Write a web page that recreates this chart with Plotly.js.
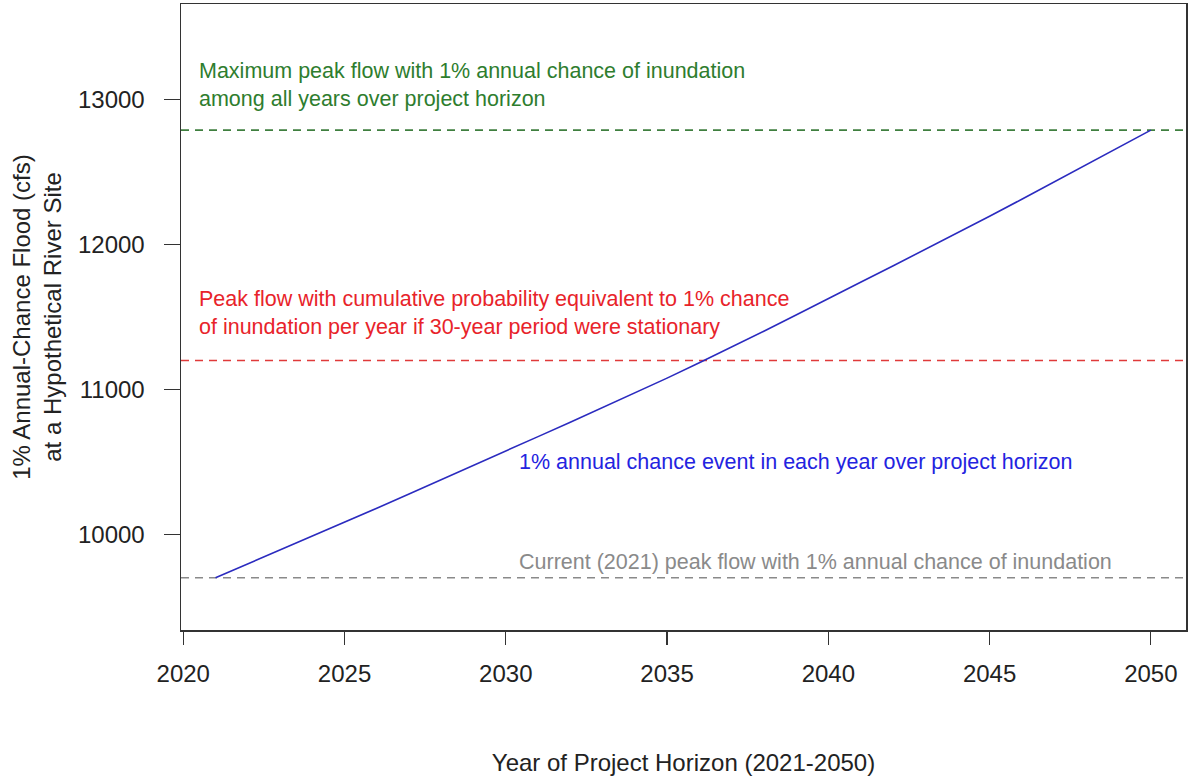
<!DOCTYPE html>
<html>
<head>
<meta charset="utf-8">
<script src="https://cdn.plot.ly/plotly-3.0.1.min.js"></script>
<style>html,body{margin:0;padding:0;background:#fff;}#chart{width:1188px;height:777px;}</style>
</head>
<body>
<div id="chart"></div>
<script>
// Data
const years = [2021,2022,2023,2024,2025,2026,2027,2028,2029,2030,
               2031,2032,2033,2034,2035,2036,2037,2038,2039,2040,
               2041,2042,2043,2044,2045,2046,2047,2048,2049,2050];
const flow1pct = [9700,9795,9890,9986,10083,10180,10278,10376,10475,10574,
                  10674,10774,10875,10976,11078,11184,11292,11402,11514,11629,
                  11740,11852,11965,12080,12196,12313,12431,12550,12670,12790];
const currentFlow = 9700;      // grey dashed
const stationaryFlow = 11200;  // red dashed
const maxFlow = 12790;         // green dashed
const xTicks = [2020,2025,2030,2035,2040,2045,2050];
const yTicks = [10000,11000,12000,13000];

const labelFont = 'Liberation Sans, Arial, sans-serif';

const trace = {
  x: years, y: flow1pct, type: 'scatter', mode: 'lines',
  line: {color: '#2b2bbf', width: 1.6}, hoverinfo: 'x+y', showlegend: false
};

function hline(y, color) {
  return {type: 'line', xref: 'paper', x0: 0, x1: 1, yref: 'y', y0: y, y1: y,
          line: {color: color, width: 1.6, dash: '8px,6px'}, layer: 'below'};
}

const annFont = (c) => ({family: labelFont, size: 21.5, color: c});

const layout = {
  width: 1188, height: 777,
  margin: {l: 181, r: 2, t: 4, b: 147},
  paper_bgcolor: '#ffffff', plot_bgcolor: '#ffffff',
  showlegend: false,
  font: {family: labelFont, size: 24, color: '#222'},
  xaxis: {
    range: [2019.93, 2051.09], tickvals: xTicks, ticktext: xTicks.map(String),
    showgrid: false, zeroline: false,
    showline: true, mirror: true, linecolor: '#333', linewidth: 1.5,
    ticks: 'outside', ticklen: 13, tickwidth: 1.2, tickcolor: '#333',
    tickfont: {family: labelFont, size: 24, color: '#222'},
    ticklabelstandoff: 9,
    title: {text: 'Year of Project Horizon (2021-2050)', font: {family: labelFont, size: 24, color: '#222'}, standoff: 68}
  },
  yaxis: {
    range: [9339, 13661], tickvals: yTicks, ticktext: yTicks.map(String),
    showgrid: false, zeroline: false,
    showline: true, mirror: true, linecolor: '#333', linewidth: 1.5,
    ticks: 'outside', ticklen: 16, tickwidth: 1.2, tickcolor: '#333',
    tickfont: {family: labelFont, size: 24, color: '#222'},
    ticklabelstandoff: 14,
    title: {text: '1% Annual-Chance Flood (cfs)<br>at a Hypothetical River Site', font: {family: labelFont, size: 24, color: '#222'}, standoff: 9}
  },
  shapes: [hline(maxFlow, '#3f7f3f'), hline(stationaryFlow, '#e03a3a'), hline(currentFlow, '#8a8a8a')],
  annotations: [
    {x: 2020.42, y: 13100, xref: 'x', yref: 'y', xanchor: 'left', yanchor: 'middle', align: 'left', showarrow: false,
     text: 'Maximum peak flow with 1% annual chance of inundation<br>among all years over project horizon', font: annFont('#2e7d2e')},
    {x: 2020.42, y: 11527, xref: 'x', yref: 'y', xanchor: 'left', yanchor: 'middle', align: 'left', showarrow: false,
     text: 'Peak flow with cumulative probability equivalent to 1% chance<br>of inundation per year if 30-year period were stationary', font: annFont('#e8232a')},
    {x: 2030.35, y: 10498, xref: 'x', yref: 'y', xanchor: 'left', yanchor: 'middle', align: 'left', showarrow: false,
     text: '1% annual chance event in each year over project horizon', font: annFont('#2323e0')},
    {x: 2030.35, y: 9806, xref: 'x', yref: 'y', xanchor: 'left', yanchor: 'middle', align: 'left', showarrow: false,
     text: 'Current (2021) peak flow with 1% annual chance of inundation', font: annFont('#8a8a8a')}
  ]
};

Plotly.newPlot('chart', [trace], layout, {displayModeBar: false, staticPlot: true});
</script>
</body>
</html>
